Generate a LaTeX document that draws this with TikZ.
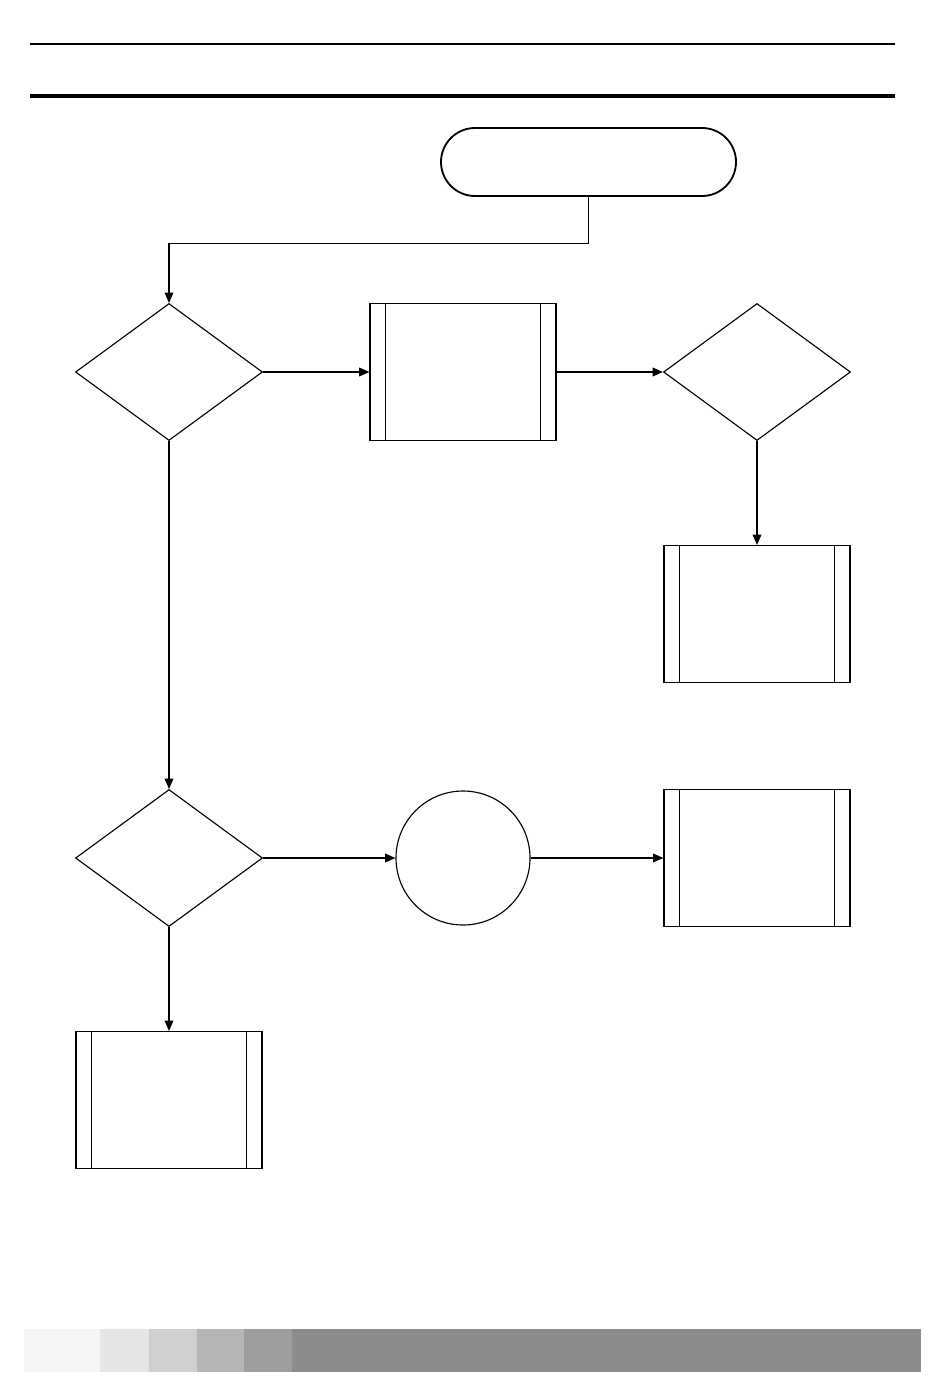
\documentclass[tikz,border=0pt]{standalone}
\usetikzlibrary{shapes.geometric,arrows.meta}
\begin{document}
\begin{tikzpicture}[x=0.25mm, y=-0.25mm,
    flowTerm/.style={draw, line width=1.3pt, rounded corners=8.5mm, minimum width=73.75mm, minimum height=17mm, inner sep=0pt},
    flowDec/.style={draw, diamond, line width=0.8pt, minimum width=46.75mm, minimum height=34.25mm, inner sep=0pt},
    flowProc/.style={draw, line width=0.8pt, minimum width=46.5mm, minimum height=34.25mm, inner sep=0pt},
    flowConn/.style={draw, circle, line width=0.8pt, minimum size=33.5mm, inner sep=0pt},
    flowArrow/.style={-{Triangle[length=2.6mm, width=2.2mm]}, line width=0.8pt}]
    \useasboundingbox (0,0) rectangle (950,1379);

    % header rules
    \draw[line width=0.9pt] (30,44) -- (895,44);
    \draw[line width=2.2pt] (30,96) -- (895,96);

    \node[flowTerm] (start) at (588.5,162) {};
    \node[flowDec] (dec1) at (169,372) {};
    \node[flowProc] (proc1) at (463,372) {};
    \node[flowDec] (dec2) at (757,372) {};
    \node[flowProc] (proc2) at (757,614) {};
    \node[flowDec] (dec3) at (169,858) {};
    \node[flowConn] (conn) at (463,858) {};
    \node[flowProc] (proc3) at (757,858) {};
    \node[flowProc] (proc4) at (169,1100) {};

    % inner bars of the process boxes
    \foreach \p in {proc1, proc2, proc3, proc4} {
        \draw[line width=0.8pt] ([xshift=4mm]\p.north west) -- ([xshift=4mm]\p.south west);
        \draw[line width=0.8pt] ([xshift=-4mm]\p.north east) -- ([xshift=-4mm]\p.south east);
    }

    \draw[flowArrow] (start.south) -- ++(0,47) -| (dec1.north);
    \draw[flowArrow] (dec1.east) -- (proc1.west);
    \draw[flowArrow] (proc1.east) -- (dec2.west);
    \draw[flowArrow] (dec2.south) -- (proc2.north);
    \draw[flowArrow] (dec1.south) -- (dec3.north);
    \draw[flowArrow] (dec3.east) -- (conn.west);
    \draw[flowArrow] (conn.east) -- (proc3.west);
    \draw[flowArrow] (dec3.south) -- (proc4.north);

    % footer colour bar
    \fill[black!4] (24,1329) rectangle (100,1372);
    \fill[black!10] (100,1329) rectangle (149,1372);
    \fill[black!19] (149,1329) rectangle (197,1372);
    \fill[black!29] (197,1329) rectangle (244,1372);
    \fill[black!38] (244,1329) rectangle (292,1372);
    \fill[black!45] (292,1329) rectangle (921,1372);
\end{tikzpicture}
\end{document}
